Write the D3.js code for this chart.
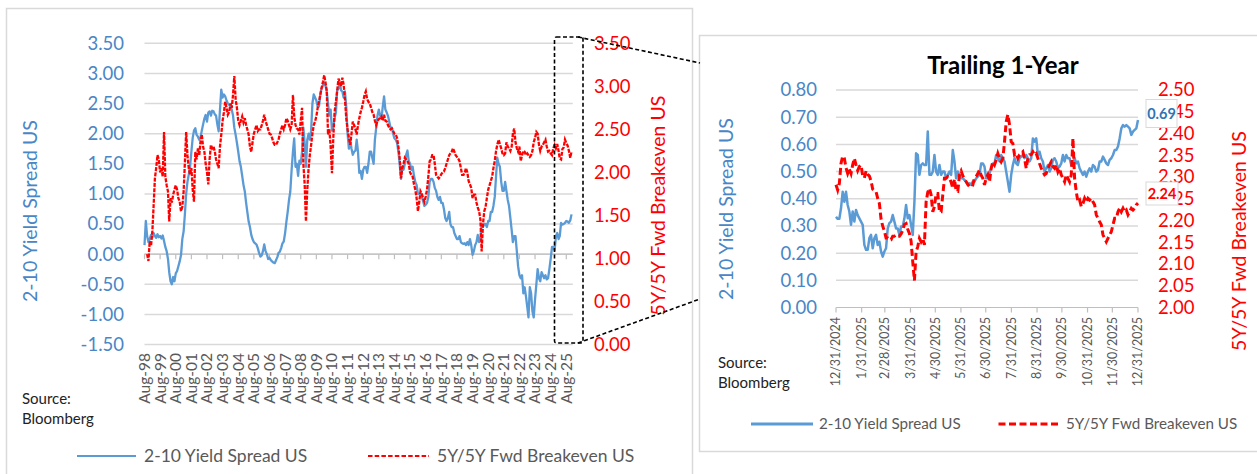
<!DOCTYPE html>
<html><head><meta charset="utf-8">
<script src="https://cdn.jsdelivr.net/npm/d3@7"></script>
<style>
body{margin:0;background:#fff}
svg{display:block}
text{font-family:Lato,"Open Sans",sans-serif}
</style>
</head><body>
<svg id="c" width="1257" height="474"></svg>
<script>
// ---------------- DATA ----------------
const monthlyStart = "1998-08";
// 2-10 Yield Spread US, monthly Aug-1998 .. Dec-2025
const spreadMonthly = [
 0.15,0.55,0.30,0.20,0.25,
 0.32,0.28,0.35,0.30,0.27,0.33,0.28,0.30,0.26,0.31,0.22,0.12,
 0.05,-0.08,-0.30,-0.45,-0.50,-0.38,-0.45,-0.32,-0.28,-0.20,-0.12,-0.02,
 0.25,0.38,0.65,1.00,1.20,1.32,1.45,1.70,1.93,2.05,2.09,1.98,
 1.95,1.90,1.93,2.05,2.15,2.25,2.31,2.20,2.35,2.37,2.30,2.38,
 2.37,2.32,2.30,2.15,2.04,2.40,2.73,2.60,2.65,2.62,2.55,2.50,
 2.48,2.45,2.40,2.30,2.10,1.98,1.85,1.70,1.54,1.45,1.30,1.15,
 1.04,0.85,0.70,0.54,0.45,0.32,0.25,0.20,0.18,0.16,0.10,0.02,
 -0.04,-0.02,0.05,0.16,0.05,0.00,-0.08,-0.06,-0.10,-0.12,-0.14,-0.15,
 -0.10,-0.05,0.02,0.04,0.10,0.18,0.21,0.35,0.54,0.70,0.90,1.04,
 1.40,1.70,1.92,1.45,1.50,1.30,1.55,1.50,1.70,2.10,1.85,1.45,
 1.90,2.00,1.90,2.05,2.50,2.65,2.60,2.55,2.45,2.45,2.65,2.75,
 2.80,2.85,2.80,2.70,2.50,2.30,2.40,2.05,2.10,2.25,2.35,2.72,
 2.75,2.85,2.72,2.70,2.60,2.70,2.45,2.00,1.75,1.90,1.75,1.65,
 1.70,1.72,1.90,1.70,1.35,1.38,1.25,1.40,1.45,1.45,1.35,1.50,
 1.70,1.70,1.60,1.50,1.90,2.10,2.30,2.40,2.30,2.25,2.45,2.62,
 2.40,2.35,2.30,2.20,2.10,2.10,2.00,1.92,1.90,1.85,1.70,1.50,
 1.25,1.45,1.40,1.50,1.65,1.72,1.55,1.50,1.40,1.45,1.30,1.20,
 1.15,1.00,1.00,0.98,0.95,0.88,0.80,0.82,0.85,0.95,1.20,1.25,
 1.25,1.20,1.10,1.05,0.95,0.90,0.95,0.85,0.85,0.75,0.60,0.55,
 0.60,0.70,0.50,0.45,0.45,0.35,0.30,0.25,0.25,0.30,0.20,0.18,
 0.17,0.18,0.15,0.20,0.15,0.25,0.15,-0.01,0.05,0.15,0.20,0.32,
 0.20,0.25,0.50,0.45,0.50,0.50,0.45,0.55,0.55,0.70,0.70,0.80,
 0.95,1.30,1.60,1.50,1.45,1.20,1.05,1.05,1.20,1.05,0.90,0.80,
 0.60,0.40,0.20,0.30,0.30,0.05,-0.20,-0.35,-0.40,-0.35,-0.65,-0.55,
 -0.70,-0.88,-1.05,-0.55,-0.65,-0.95,-1.05,-0.75,-0.50,-0.25,-0.40,-0.45,
 -0.30,-0.35,-0.40,-0.35,-0.42,-0.40,-0.25,-0.08,0.12,0.12,0.06,0.30,
 0.35,0.25,0.30,0.52,0.49,0.50,0.52,0.55,0.54,0.52,0.56,0.66
];
// 5Y/5Y Fwd Breakeven US, monthly Aug-1998 .. Dec-2025
const breakevenMonthly = [
 null,null,1.05,0.97,1.20,
 1.15,1.32,1.60,1.93,2.05,2.20,2.15,2.00,2.05,1.95,2.47,1.95,
 1.85,1.78,1.43,1.70,1.65,1.74,1.80,1.85,1.80,1.70,1.66,1.55,
 1.60,1.78,2.10,2.47,2.20,2.05,1.97,2.05,1.80,1.66,2.24,2.15,
 2.28,2.20,2.35,2.44,2.30,2.24,2.10,2.00,1.86,2.15,2.32,2.28,
 2.30,2.24,2.15,2.10,2.05,2.30,2.44,2.60,2.70,2.82,2.75,2.67,
 2.70,2.80,2.75,2.90,3.12,2.85,2.75,2.60,2.55,2.60,2.65,2.58,
 2.63,2.55,2.50,2.44,2.30,2.24,2.35,2.45,2.50,2.55,2.48,2.50,
 2.50,2.55,2.60,2.67,2.60,2.55,2.50,2.45,2.44,2.40,2.35,2.32,
 2.32,2.35,2.38,2.45,2.50,2.55,2.50,2.55,2.63,2.60,2.55,2.50,
 2.55,2.90,2.65,2.55,2.51,2.50,2.44,2.60,2.75,2.10,1.86,1.43,
 1.80,2.05,2.20,2.32,2.45,2.55,2.59,2.65,2.75,2.82,2.90,2.98,
 3.05,3.13,3.05,2.95,2.44,2.50,2.30,1.99,2.40,2.70,2.82,2.95,
 3.09,3.05,3.00,3.10,3.02,2.85,2.63,2.50,2.40,2.32,2.45,2.59,
 2.55,2.50,2.44,2.55,2.63,2.70,2.75,2.82,2.90,2.94,2.85,2.82,
 2.80,2.75,2.70,2.67,2.60,2.55,2.60,2.62,2.63,2.65,2.60,2.67,
 2.60,2.59,2.55,2.52,2.50,2.51,2.48,2.45,2.44,2.40,2.30,2.17,
 1.93,2.05,2.10,2.17,2.15,2.13,2.10,2.00,1.97,1.95,1.86,1.80,
 1.70,1.55,1.65,1.78,1.75,1.70,1.66,1.72,1.80,1.95,2.13,2.15,
 2.20,2.20,2.10,1.97,1.95,1.93,1.95,1.98,2.00,2.01,2.05,2.10,
 2.15,2.20,2.22,2.24,2.28,2.24,2.20,2.18,2.16,2.13,2.05,1.97,
 1.97,2.00,2.05,2.00,1.90,1.86,1.82,1.70,1.74,1.74,1.65,1.59,
 1.55,1.45,1.08,1.40,1.55,1.60,1.70,1.80,1.85,1.90,1.95,2.05,
 2.13,2.25,2.32,2.38,2.33,2.28,2.22,2.20,2.22,2.35,2.30,2.28,
 2.25,2.30,2.45,2.51,2.35,2.28,2.24,2.30,2.13,2.20,2.25,2.24,
 2.20,2.22,2.20,2.18,2.20,2.25,2.35,2.40,2.47,2.45,2.32,2.25,
 2.30,2.32,2.35,2.38,2.30,2.24,2.25,2.22,2.20,2.28,2.32,2.28,
 2.33,2.25,2.16,2.15,2.27,2.29,2.38,2.34,2.31,2.25,2.17,2.24
];
const longTickLabels = ["Aug-98","Aug-99","Aug-00","Aug-01","Aug-02","Aug-03","Aug-04","Aug-05","Aug-06","Aug-07","Aug-08","Aug-09","Aug-10","Aug-11","Aug-12","Aug-13","Aug-14","Aug-15","Aug-16","Aug-17","Aug-18","Aug-19","Aug-20","Aug-21","Aug-22","Aug-23","Aug-24","Aug-25"];
const longLeftTicks = [3.5,3.0,2.5,2.0,1.5,1.0,0.5,0.0,-0.5,-1.0,-1.5];
const longRightTicks = [3.5,3.0,2.5,2.0,1.5,1.0,0.5,0.0];

// Trailing 1-year (approx. every 2 calendar days, 12/31/2024 .. 12/31/2025)
const trailingStart = "12/31/2024", trailingEnd = "12/31/2025";
const trailingSpread = [
 0.334,0.326,0.326,0.365,0.426,0.389,0.426,0.377,0.353,0.304,
 0.353,0.316,0.359,0.340,0.328,0.316,0.304,0.230,0.212,0.212,
 0.255,0.267,0.218,0.255,0.267,0.230,0.242,0.206,0.187,0.206,
 0.218,0.291,0.310,0.316,0.340,0.316,0.291,0.291,0.267,0.298,
 0.298,0.328,0.377,0.328,0.340,0.304,0.267,0.389,0.567,0.561,
 0.488,0.524,0.530,0.524,0.524,0.647,0.488,0.488,0.500,0.561,
 0.500,0.488,0.524,0.488,0.500,0.500,0.475,0.488,0.500,0.488,
 0.579,0.537,0.475,0.500,0.488,0.475,0.475,0.469,0.463,0.451,
 0.457,0.451,0.463,0.463,0.475,0.481,0.488,0.530,0.530,0.518,
 0.475,0.488,0.494,
 0.512,0.530,0.530,0.561,0.549,0.537,0.561,0.549,0.537,0.500,
 0.463,0.426,0.488,0.524,0.549,0.530,0.524,0.549,0.555,0.561,
 0.549,0.561,0.549,0.537,0.549,0.622,0.610,0.622,0.561,0.573,
 0.549,0.537,0.500,0.512,0.524,0.500,0.512,0.543,0.549,0.537,
 0.512,0.518,0.530,0.561,0.537,0.561,0.549,0.549,0.524,0.530,
 0.549,0.530,0.537,0.512,0.500,0.488,0.500,0.481,0.500,0.512,
 0.500,0.524,0.518,0.500,0.506,0.537,0.537,0.555,0.543,0.530,
 0.524,0.543,0.549,0.561,0.579,0.579,0.592,0.622,0.659,0.671,
 0.665,0.671,0.665,0.659,0.635,0.647,0.653,0.659,0.690
];
const trailingBreakeven = [
 2.282,2.270,2.285,2.331,2.348,2.343,2.321,2.308,2.318,2.308,
 2.328,2.343,2.328,2.315,2.324,2.327,2.303,2.298,2.314,2.306,
 2.302,2.291,2.272,2.269,2.266,2.251,2.239,2.203,2.187,2.176,
 2.160,2.160,2.156,2.156,2.164,2.164,2.167,2.164,2.164,2.169,
 2.177,2.191,2.193,2.180,2.170,2.153,2.105,2.062,2.128,2.140,
 2.159,2.151,2.159,2.144,2.243,2.265,2.274,2.259,2.220,2.232,
 2.262,2.262,2.220,2.220,2.259,2.297,2.297,2.301,2.297,2.288,
 2.274,2.295,2.268,2.267,2.305,2.314,2.303,2.295,2.289,2.283,
 2.278,2.283,2.282,2.298,2.301,2.308,2.316,2.304,2.297,2.282,
 2.297,2.305,2.289,
 2.320,2.335,2.328,2.339,2.354,2.343,2.335,2.343,2.381,2.427,
 2.443,2.420,2.381,2.377,2.351,2.354,2.343,2.351,2.354,2.358,
 2.343,2.320,2.343,2.351,2.351,2.358,2.351,2.354,2.343,2.331,
 2.320,2.312,2.305,2.308,2.320,2.328,2.335,2.324,2.320,2.328,
 2.312,2.320,2.305,2.297,2.289,2.305,2.297,2.289,2.305,2.389,
 2.297,2.266,2.243,2.247,2.232,2.239,2.251,2.243,2.251,2.247,
 2.251,2.243,2.236,2.213,2.205,2.197,2.190,2.167,2.159,2.151,
 2.159,2.167,2.174,2.190,2.205,2.205,2.220,2.228,2.220,2.228,
 2.220,2.224,2.213,2.220,2.228,2.224,2.228,2.236,2.240
];
const trailingTickLabels = ["12/31/2024","1/31/2025","2/28/2025","3/31/2025","4/30/2025","5/31/2025","6/30/2025","7/31/2025","8/31/2025","9/30/2025","10/31/2025","11/30/2025","12/31/2025"];
const trailingLeftTicks = [0.8,0.7,0.6,0.5,0.4,0.3,0.2,0.1,0.0];
const trailingRightTicks = [2.50,2.45,2.40,2.35,2.30,2.25,2.20,2.15,2.10,2.05,2.00];
const seriesNames = ["2-10 Yield Spread US","5Y/5Y Fwd Breakeven US"];
const lastLabels = ["0.69","2.24"];

// ---------------- STYLE ----------------
const BLUE = "#5b9bd5", BLUE_TXT = "#4a86c6", RED = "#ff0000", GRID = "#d9d9d9", AXIS = "#bfbfbf", GRAYTXT = "#595959";
const fmt = v => (v < 0 ? "-" : "") + Math.abs(v).toFixed(2);

const svg = d3.select("#c");
svg.append("rect").attr("width",1257).attr("height",474).attr("fill","#fff");

// panel frames
svg.append("rect").attr("x",6.5).attr("y",8.5).attr("width",686).attr("height",480)
  .attr("fill","none").attr("stroke","#d9d9d9").attr("stroke-width",1.5);
svg.append("rect").attr("x",699.5).attr("y",35.5).attr("width",580).attr("height",416)
  .attr("fill","none").attr("stroke","#d9d9d9").attr("stroke-width",1.5);

// ================= LEFT (long history) =================
{
  const parseM = d3.timeParse("%Y-%m");
  const t0 = parseM(monthlyStart);
  const dates = spreadMonthly.map((_, i) => d3.timeMonth.offset(t0, i));
  const x = d3.scaleTime().domain([t0, new Date(2025, 11, 31)]).range([144.5, 572.8]);
  const yL = d3.scaleLinear().domain([-1.5, 3.5]).range([344.5, 43.3]);
  const yR = d3.scaleLinear().domain([0, 3.5]).range([344.5, 43.3]);
  const g = svg.append("g");

  g.selectAll("line.grid").data(longLeftTicks).join("line")
    .attr("x1",144.5).attr("x2",572.8).attr("y1",d=>yL(d)).attr("y2",d=>yL(d))
    .attr("stroke",GRID).attr("stroke-width",1.5);

  const pTick = d3.timeParse("%b-%y");
  const tickDates = longTickLabels.map(pTick);
  g.append("line").attr("x1",144.5).attr("x2",572.8).attr("y1",yL(0)).attr("y2",yL(0))
    .attr("stroke",AXIS).attr("stroke-width",1.2);
  g.selectAll("line.xt").data(tickDates).join("line")
    .attr("x1",d=>x(d)).attr("x2",d=>x(d)).attr("y1",yL(0)).attr("y2",yL(0)+5)
    .attr("stroke",AXIS).attr("stroke-width",1.2);
  g.selectAll("text.xl").data(longTickLabels).join("text")
    .attr("transform",(d,i)=>`translate(${x(tickDates[i])},353) rotate(-90)`)
    .attr("text-anchor","end").attr("dy","0.35em")
    .attr("font-size",15.5).attr("fill",GRAYTXT).text(d=>d);

  g.selectAll("text.yl").data(longLeftTicks).join("text")
    .attr("x",124).attr("y",d=>yL(d)).attr("dy","0.35em").attr("text-anchor","end")
    .attr("font-size",18.5).attr("fill",BLUE_TXT).text(fmt);
  g.selectAll("text.yr").data(longRightTicks).join("text")
    .attr("x",594).attr("y",d=>yR(d)).attr("dy","0.35em").attr("text-anchor","start")
    .attr("font-size",18.5).attr("fill",RED).text(fmt);

  g.append("text").attr("transform","translate(30,211) rotate(-90)").attr("text-anchor","middle")
    .attr("dy","0.35em").attr("font-size",19.5).attr("fill",BLUE_TXT).text(seriesNames[0]);
  g.append("text").attr("transform","translate(658,205.5) rotate(-90)").attr("text-anchor","middle")
    .attr("dy","0.35em").attr("font-size",19.5).attr("fill",RED).text(seriesNames[1]);

  const lineL = d3.line().x((d,i)=>x(dates[i])).y(d=>yL(d)).defined(d=>d!=null);
  const lineR = d3.line().x((d,i)=>x(dates[i])).y(d=>yR(d)).defined(d=>d!=null);
  g.append("path").attr("d",lineL(spreadMonthly)).attr("fill","none")
    .attr("stroke",BLUE).attr("stroke-width",2.3).attr("stroke-linejoin","round");
  g.append("path").attr("d",lineR(breakevenMonthly)).attr("fill","none")
    .attr("stroke",RED).attr("stroke-width",2.3).attr("stroke-dasharray","4,1.3");

  // zoom box + connectors
  const dash = {stroke:"#000","stroke-width":1.6,"stroke-dasharray":"4,2.5",fill:"none"};
  const box = g.append("rect").attr("x",554.5).attr("y",37).attr("width",28.5).attr("height",306).attr("rx",2);
  const c1 = g.append("line").attr("x1",578).attr("y1",37).attr("x2",700).attr("y2",63);
  const c2 = g.append("line").attr("x1",578).attr("y1",343).attr("x2",700).attr("y2",299);
  [box,c1,c2].forEach(s=>Object.entries(dash).forEach(([k,v])=>s.attr(k,v)));

  g.append("text").attr("x",22).attr("y",399).attr("dy","0.35em").attr("font-size",15).attr("fill","#222").text("Source:");
  g.append("text").attr("x",22).attr("y",419).attr("dy","0.35em").attr("font-size",15).attr("fill","#222").text("Bloomberg");

  g.append("line").attr("x1",77).attr("x2",136).attr("y1",456).attr("y2",456).attr("stroke",BLUE).attr("stroke-width",2);
  g.append("text").attr("x",144).attr("y",456).attr("dy","0.35em").attr("font-size",17.5).attr("fill",GRAYTXT).text(seriesNames[0]);
  g.append("line").attr("x1",368).attr("x2",429).attr("y1",456).attr("y2",456).attr("stroke",RED).attr("stroke-width",2).attr("stroke-dasharray","4.5,2.2");
  g.append("text").attr("x",437).attr("y",456).attr("dy","0.35em").attr("font-size",17.5).attr("fill",GRAYTXT).text(seriesNames[1]);
}

// ================= RIGHT (trailing 1-year) =================
{
  const p = d3.timeParse("%m/%d/%Y");
  const t0 = p(trailingStart), t1 = p(trailingEnd);
  const n = trailingSpread.length;
  const dates = trailingSpread.map((_, i) => new Date(+t0 + (t1 - t0) * i / (n - 1)));
  const x = d3.scaleTime().domain([t0, t1]).range([836, 1138]);
  const yL = d3.scaleLinear().domain([0, 0.8]).range([307.5, 90]);
  const yR = d3.scaleLinear().domain([2.0, 2.5]).range([307.5, 90]);
  const g = svg.append("g");

  g.append("text").attr("x",1003).attr("y",66).attr("dy","0.35em").attr("text-anchor","middle")
    .attr("font-size",24).attr("font-weight","bold").attr("fill","#000").text("Trailing 1-Year");

  g.selectAll("line.grid").data(trailingLeftTicks.filter(d=>d>0)).join("line")
    .attr("x1",836).attr("x2",1138).attr("y1",d=>yL(d)).attr("y2",d=>yL(d))
    .attr("stroke",GRID).attr("stroke-width",1.5);
  const tickDates = trailingTickLabels.map(p);
  g.append("line").attr("x1",836).attr("x2",1138).attr("y1",yL(0)).attr("y2",yL(0))
    .attr("stroke",AXIS).attr("stroke-width",1.2);
  g.selectAll("line.xt").data(tickDates).join("line")
    .attr("x1",d=>x(d)).attr("x2",d=>x(d)).attr("y1",yL(0)).attr("y2",yL(0)+5)
    .attr("stroke",AXIS).attr("stroke-width",1.2);
  g.selectAll("text.xl").data(trailingTickLabels).join("text")
    .attr("transform",(d,i)=>`translate(${x(tickDates[i])},317) rotate(-90)`)
    .attr("text-anchor","end").attr("dy","0.35em")
    .attr("font-size",12.5).attr("fill",GRAYTXT).text(d=>d);

  g.selectAll("text.yl").data(trailingLeftTicks).join("text")
    .attr("x",817).attr("y",d=>yL(d)).attr("dy","0.35em").attr("text-anchor","end")
    .attr("font-size",18.5).attr("fill",BLUE_TXT).text(fmt);
  g.selectAll("text.yr").data(trailingRightTicks).join("text")
    .attr("x",1158).attr("y",d=>yR(d)).attr("dy","0.35em").attr("text-anchor","start")
    .attr("font-size",18.5).attr("fill",RED).text(fmt);

  g.append("text").attr("transform","translate(726,209) rotate(-90)").attr("text-anchor","middle")
    .attr("dy","0.35em").attr("font-size",19.5).attr("fill",BLUE_TXT).text(seriesNames[0]);
  g.append("text").attr("transform","translate(1239,241) rotate(-90)").attr("text-anchor","middle")
    .attr("dy","0.35em").attr("font-size",19.5).attr("fill",RED).text(seriesNames[1]);

  const lineL = d3.line().x((d,i)=>x(dates[i])).y(d=>yL(d));
  const lineR = d3.line().x((d,i)=>x(dates[i])).y(d=>yR(d));
  g.append("path").attr("d",lineL(trailingSpread)).attr("fill","none")
    .attr("stroke",BLUE).attr("stroke-width",2.5).attr("stroke-linejoin","round");
  g.append("path").attr("d",lineR(trailingBreakeven)).attr("fill","none")
    .attr("stroke",RED).attr("stroke-width",3).attr("stroke-dasharray","7,3.5");

  // end-value labels (drawn over the axis labels, as in the original)
  g.append("rect").attr("x",1146).attr("y",99.5).attr("width",31).attr("height",28)
    .attr("fill","#fff").attr("stroke","#d9d9d9").attr("stroke-width",1);
  g.append("text").attr("x",1161.5).attr("y",113.5).attr("dy","0.35em").attr("text-anchor","middle")
    .attr("font-size",14.5).attr("font-weight","bold").attr("fill","#2e75b6").text(lastLabels[0]);
  g.append("rect").attr("x",1146).attr("y",182).attr("width",32).attr("height",23)
    .attr("fill","#fff").attr("stroke","#d9d9d9").attr("stroke-width",1);
  g.append("text").attr("x",1162).attr("y",193.5).attr("dy","0.35em").attr("text-anchor","middle")
    .attr("font-size",14.5).attr("font-weight","bold").attr("fill",RED).text(lastLabels[1]);

  g.append("text").attr("x",718).attr("y",363).attr("dy","0.35em").attr("font-size",15).attr("fill","#222").text("Source:");
  g.append("text").attr("x",718).attr("y",383).attr("dy","0.35em").attr("font-size",15).attr("fill","#222").text("Bloomberg");

  g.append("line").attr("x1",751).attr("x2",813).attr("y1",424).attr("y2",424).attr("stroke",BLUE).attr("stroke-width",3);
  g.append("text").attr("x",819).attr("y",424).attr("dy","0.35em").attr("font-size",15.2).attr("fill",GRAYTXT).text(seriesNames[0]);
  g.append("line").attr("x1",998.5).attr("x2",1061).attr("y1",424).attr("y2",424).attr("stroke",RED).attr("stroke-width",3).attr("stroke-dasharray","7,3.5");
  g.append("text").attr("x",1066).attr("y",424).attr("dy","0.35em").attr("font-size",15.2).attr("fill",GRAYTXT).text(seriesNames[1]);
}
</script>
</body></html>
